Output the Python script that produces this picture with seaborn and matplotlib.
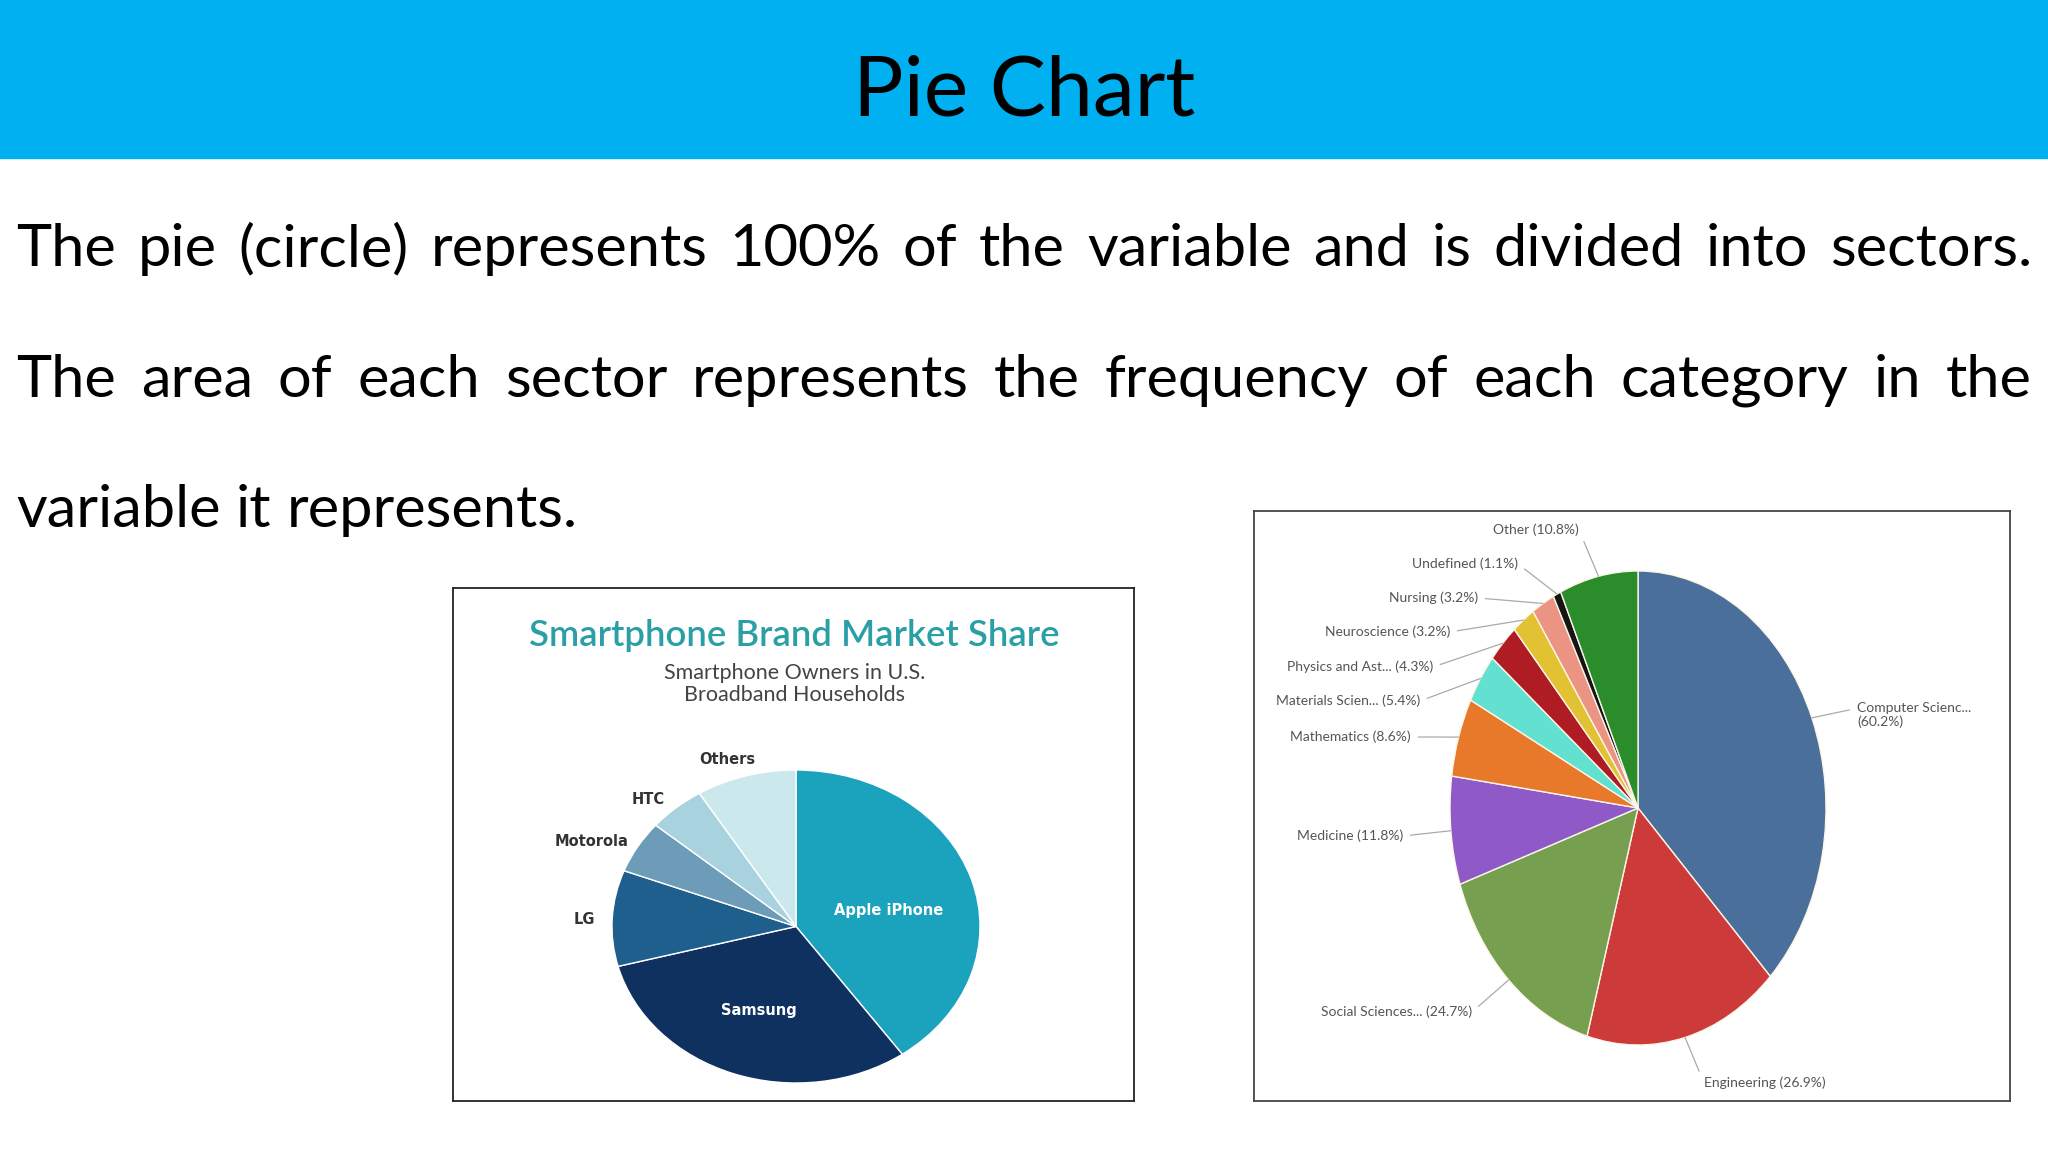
import matplotlib
matplotlib.use("Agg")
import matplotlib.pyplot as plt
from matplotlib.patches import Rectangle
import seaborn as sns
import numpy as np

W, H = 2048, 1152

# slide text
header_title = "Pie Chart"
body_lines = [
    "The pie (circle) represents 100% of the variable and is divided into sectors.",
    "The area of each sector represents the frequency of each category in the",
    "variable it represents.",
]

# left chart: smartphone brands
brand_title = "Smartphone Brand Market Share"
brand_subtitle = "Smartphone Owners in U.S.\nBroadband Households"
brands = ["Apple iPhone", "Samsung", "LG", "Motorola", "HTC", "Others"]
brand_share = [40.2, 30.7, 9.9, 5.4, 5.0, 8.8]
brand_colors = ["#1ba3bd", "#0e3160", "#1f5f8d", "#6c9cb8", "#a8d3de", "#cbe8ec"]

# right chart: research fields
fields = ["Computer Scienc...", "Engineering", "Social Sciences...", "Medicine",
          "Mathematics", "Materials Scien...", "Physics and Ast...", "Neuroscience",
          "Nursing", "Undefined", "Other"]
field_share = [60.2, 26.9, 24.7, 11.8, 8.6, 5.4, 4.3, 3.2, 3.2, 1.1, 10.8]
field_colors = ["#4a6f9a", "#cc3a3a", "#76a050", "#8f5ac8", "#e8782a", "#62e0d0",
                "#b01c24", "#e2c232", "#ec9484", "#151515", "#2a8c2a"]

sns.set_theme(style="white")
plt.rcParams["font.family"] = ["Lato", "DejaVu Sans"]

fig = plt.figure(figsize=(W / 100, H / 100), dpi=100)
fig.patch.set_facecolor("white")
renderer = fig.canvas.get_renderer()


def frac(x0, y0, x1, y1):
    """pixel box (top-left origin) -> figure fraction rect"""
    return [x0 / W, 1 - y1 / H, (x1 - x0) / W, (y1 - y0) / H]


def fit(t, width):
    w = t.get_window_extent(renderer).width
    t.set_fontsize(t.get_fontsize() * width / w)


# header bar
fig.add_artist(Rectangle((0, 1 - 158 / H), 1, 158 / H, transform=fig.transFigure,
                         color="#00b0f0", zorder=0))
t = fig.text(1024 / W, 1 - 115 / H, header_title, ha="center", va="baseline",
             fontsize=60, color="black")
fit(t, 343)

# body text, justified
x_left, x_right = 16, 2032
baselines = [266, 397, 527]
probe = fig.text(0, 0, body_lines[2], fontsize=40)
fit(probe, 561)
body_size = probe.get_fontsize()
probe.remove()
space = fig.text(0, 0, "a a", fontsize=body_size).get_window_extent(renderer).width - \
    2 * fig.text(0, 0, "a", fontsize=body_size).get_window_extent(renderer).width
for i, line in enumerate(body_lines):
    words = line.split(" ")
    y = 1 - baselines[i] / H
    texts = [fig.text(0, y, w, fontsize=body_size, va="baseline", color="black")
             for w in words]
    widths = [tx.get_window_extent(renderer).width for tx in texts]
    if i < 2:
        gap = (x_right - x_left - sum(widths)) / (len(words) - 1)
    else:
        gap = space
    x = x_left
    for tx, w in zip(texts, widths):
        tx.set_x(x / W)
        x += w + gap
# drop the helper texts used to measure a space
for tx in fig.texts[:]:
    if tx.get_text() in ("a a", "a"):
        tx.remove()

# ---- left chart ----
box_l = fig.add_axes(frac(453, 588, 1134, 1101))
box_l.set_xticks([])
box_l.set_yticks([])
for s in box_l.spines.values():
    s.set_visible(True)
    s.set_color("#222222")
    s.set_linewidth(1.3)

t = fig.text(794 / W, 1 - 635 / H, brand_title, ha="center", va="center",
             fontsize=24, color="#2a9fa6", fontweight="semibold")
fit(t, 531)
t = fig.text(795 / W, 1 - 684 / H, brand_subtitle, ha="center", va="center",
             fontsize=15.5, color="#444444", linespacing=1.15, multialignment="center")

ax_l = fig.add_axes(frac(612, 770, 980, 1083))
ax_l.pie(brand_share, colors=brand_colors, startangle=90, counterclock=False,
         wedgeprops=dict(edgecolor="white", linewidth=1))
ax_l.set_aspect("auto")
ax_l.set_xlim(-1, 1)
ax_l.set_ylim(-1, 1)
ax_l.axis("off")

brand_label_pos = {"Others": (727, 759), "HTC": (648, 799), "Motorola": (592, 841),
                   "LG": (584, 919), "Apple iPhone": (889, 910), "Samsung": (759, 1011)}
for b in brands:
    px, py = brand_label_pos[b]
    inside = b in ("Apple iPhone", "Samsung")
    fig.text(px / W, 1 - py / H, b, ha="center", va="center", fontsize=10.5,
             fontweight="bold", color="white" if inside else "#333333",
             family=["Liberation Sans Narrow", "DejaVu Sans"])

# ---- right chart ----
box_r = fig.add_axes(frac(1254, 511, 2010, 1101))
box_r.set_xticks([])
box_r.set_yticks([])
for s in box_r.spines.values():
    s.set_visible(True)
    s.set_color("#444444")
    s.set_linewidth(1.3)

ax_r = fig.add_axes(frac(1450, 571, 1826, 1045))
wedges, _ = ax_r.pie(field_share, colors=field_colors, startangle=90, counterclock=False,
                     wedgeprops=dict(edgecolor="#fbf6e8", linewidth=1))
ax_r.set_aspect("auto")
ax_r.set_xlim(-1, 1)
ax_r.set_ylim(-1, 1)
ax_r.axis("off")

# label anchor (px, py, ha)
field_label_pos = [(1857, 715, "left"), (1704, 1083, "left"), (1472, 1012, "right"),
                   (1403, 836, "right"), (1411, 737, "right"), (1420, 701, "right"),
                   (1433, 667, "right"), (1450, 632, "right"), (1478, 598, "right"),
                   (1518, 564, "right"), (1579, 530, "right")]
for w, name, pct, (px, py, ha) in zip(wedges, fields, field_share, field_label_pos):
    ang = np.deg2rad((w.theta1 + w.theta2) / 2)
    sep = "\n" if name.startswith("Computer") else " "
    label = f"{name}{sep}({pct}%)"
    relpos = (0, 0.75) if ha == "left" else (1, 0.5)
    if name == "Engineering":
        relpos = (0, 0.5)
    ax_r.annotate(label, xy=(np.cos(ang), np.sin(ang)), xycoords="data",
                  xytext=(px, H - py), textcoords="figure pixels",
                  ha=ha, va="center", fontsize=10, color="#555555",
                  arrowprops=dict(arrowstyle="-", color="#aaaaaa", lw=0.9,
                                  shrinkA=3, shrinkB=0, relpos=relpos))

fig.savefig("out.png", dpi=100)
